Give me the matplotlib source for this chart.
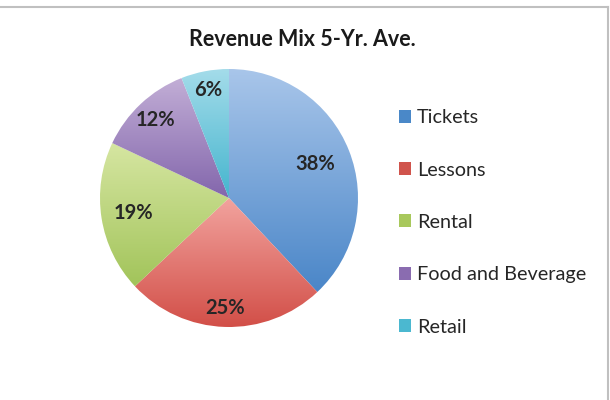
import numpy as np
import matplotlib.pyplot as plt
from matplotlib.colors import LinearSegmentedColormap
from matplotlib.patches import Patch
from matplotlib.lines import Line2D

plt.rcParams['font.family'] = ['Lato', 'DejaVu Sans']

# Data
categories = ["Tickets", "Lessons", "Rental", "Food and Beverage", "Retail"]
shares = [38, 25, 19, 12, 6]

# Gradient colours (light top, dark bottom) and legend colours
top_colors = ["#a9c6ea", "#f2a39e", "#d6e6a2", "#c2aed6", "#a4dcea"]
bottom_colors = ["#4a86c8", "#d24f48", "#a2c45a", "#8366ac", "#45b5ce"]
legend_colors = ["#4a88c8", "#d0544c", "#a8c85c", "#8a6cb0", "#4bb8d0"]
# radial position of each percentage label (fraction of radius)
label_radius = [0.72, 0.85, 0.75, 0.83, 0.85]

fig = plt.figure(figsize=(6.1, 4.0), dpi=100)
ax = fig.add_axes([0.1639, 0.1825, 0.423, 0.645])

wedges, texts, autotexts = ax.pie(
    shares, colors=bottom_colors, startangle=90, counterclock=False,
    autopct="%d%%", pctdistance=0.8,
    textprops=dict(fontsize=14.5, fontweight="bold", color="#262626"))

# Vertical gradient inside each wedge
for w, c1, c2 in zip(wedges, top_colors, bottom_colors):
    ext = w.get_path().get_extents()
    cmap = LinearSegmentedColormap.from_list("g", [c1, c2])
    grad = np.linspace(0, 1, 256).reshape(-1, 1)
    im = ax.imshow(grad, cmap=cmap, aspect="auto",
                   extent=[ext.x0, ext.x1, ext.y0, ext.y1], origin="upper", zorder=1)
    im.set_clip_path(w)
    w.set_facecolor("none")
    w.set_edgecolor("none")

# Move labels to Excel-like "best fit" distances
for w, t, r in zip(wedges, autotexts, label_radius):
    ang = np.deg2rad((w.theta1 + w.theta2) / 2)
    t.set_position((r * np.cos(ang), r * np.sin(ang)))
    t.set_zorder(5)

ax.set_xlim(-1, 1)
ax.set_ylim(-1, 1)
ax.set_aspect("equal")
ax.axis("off")

# Title
fig.text(0.495, 0.9, "Revenue Mix 5-Yr. Ave.", ha="center", va="center",
         fontsize=15.5, fontweight="bold", color="#1a1a1a")

# Legend
handles = [Patch(facecolor=c, edgecolor="none") for c in legend_colors]
fig.legend(handles, categories, loc="center left", bbox_to_anchor=(0.624, 0.444),
           frameon=False, fontsize=14.3, handlelength=0.62, handleheight=0.62,
           handletextpad=0.3, labelspacing=1.78, labelcolor="#262626")

# Chart border (top and right visible)
fig.add_artist(Line2D([0, 0.9963], [0.9813, 0.9813], color="#c0c0c0", lw=1.5))
fig.add_artist(Line2D([0.9963, 0.9963], [0, 0.9813], color="#c0c0c0", lw=1.5))

fig.savefig("out.png", dpi=100)
